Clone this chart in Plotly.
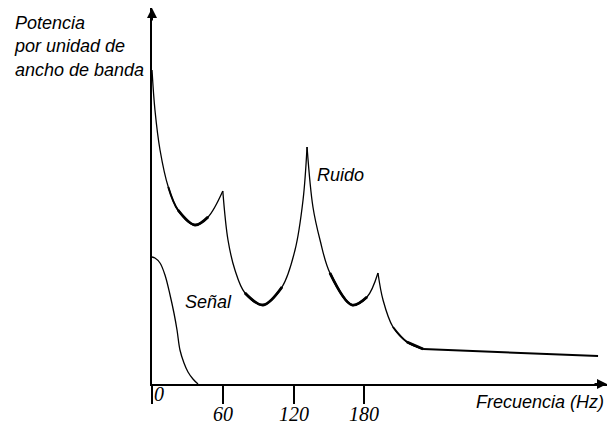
import plotly.graph_objects as go

# ---- data (frequency in Hz, power in arbitrary units) ----
tick_vals = [0, 60, 120, 180]
tick_text = ["0", "60", "120", "180"]

ruido_arc1_x = [0, 2.5, 6.8, 13.8, 22.0, 36.4, 47.5, 60]
ruido_arc1_y = [314, 274, 234, 197, 174, 159, 167, 193]
ruido_arc2_x = [60, 64.4, 70.3, 78.8, 94.1, 110.2, 121.2, 128.0, 131.4]
ruido_arc2_y = [193, 144, 114, 91, 79, 97, 134, 184, 237]
ruido_arc3_x = [131.4, 136.4, 142.4, 150.8, 169.5, 182.2, 191.5]
ruido_arc3_y = [237, 177, 144, 111, 79, 87, 111]
ruido_arc4_x = [191.5, 195.8, 204.2, 216.1, 229.7]
ruido_arc4_y = [111, 84, 57, 42, 35]
ruido_tail_x = [229.7, 378]
ruido_tail_y = [35, 28]

senal_x = [0, 2.5, 6.8, 11.0, 15.3, 18.6, 21.2, 23.7, 27.1, 30.5, 34.7, 39.0]
senal_y = [127, 126, 121, 109, 89, 71, 54, 34, 21, 12, 5, 0]

# ---- layout geometry ----
W, H = 608, 426
L, R, T, B = 152, 1, 8, 42
PX_PER_HZ = 1.18
plot_w = W - L - R
plot_h = H - T - B
x_max = plot_w / PX_PER_HZ
y_max = plot_h


def px(xp):
    return (xp - L) / plot_w


def py(yp):
    return (H - B - yp) / plot_h


fig = go.Figure()

arcs = [
    (ruido_arc1_x, ruido_arc1_y, slice(3, 7), slice(4, 7)),
    (ruido_arc2_x, ruido_arc2_y, slice(3, 6), slice(3, 6)),
    (ruido_arc3_x, ruido_arc3_y, slice(3, 6), slice(3, 6)),
    (ruido_arc4_x, ruido_arc4_y, slice(2, 5), slice(3, 5)),
]
for xs, ys, mid, core in arcs:
    fig.add_trace(go.Scatter(x=xs, y=ys, mode="lines",
                             line=dict(color="black", width=1.3, shape="spline"),
                             hoverinfo="skip", showlegend=False))
    fig.add_trace(go.Scatter(x=xs[mid], y=ys[mid], mode="lines",
                             line=dict(color="black", width=2.0, shape="spline"),
                             hoverinfo="skip", showlegend=False))
    fig.add_trace(go.Scatter(x=xs[core], y=ys[core], mode="lines",
                             line=dict(color="black", width=2.8, shape="spline"),
                             hoverinfo="skip", showlegend=False))

fig.add_trace(go.Scatter(x=ruido_tail_x, y=ruido_tail_y, mode="lines",
                         line=dict(color="black", width=2),
                         hoverinfo="skip", showlegend=False))
fig.add_trace(go.Scatter(x=senal_x, y=senal_y, mode="lines",
                         line=dict(color="black", width=1.3, shape="spline"),
                         hoverinfo="skip", showlegend=False))

label_font = dict(family="Liberation Sans, Arial", size=18, color="black", style="italic")
tick_font = dict(family="Liberation Serif, Times New Roman", size=20, color="black", style="italic")

annotations = [
    dict(xref="paper", yref="paper", x=px(12), y=py(11), xanchor="left", yanchor="top",
         align="left", showarrow=False, font=label_font,
         text="Potencia<br>por unidad de<br>ancho de banda"),
    dict(xref="x", yref="y", x=(315 - L) / PX_PER_HZ, y=H - B - 175,
         xanchor="left", yanchor="middle", showarrow=False, font=label_font, text="Ruido"),
    dict(xref="x", yref="y", x=(183 - L) / PX_PER_HZ, y=H - B - 302,
         xanchor="left", yanchor="middle", showarrow=False, font=label_font, text="Señal"),
    dict(xref="paper", yref="paper", x=px(606), y=py(402), xanchor="right", yanchor="middle",
         showarrow=False, font=label_font, text="Frecuencia (Hz)"),
    # axis arrows
    dict(xref="x", yref="y", x=x_max, y=0, ax=-14, ay=0, showarrow=True,
         arrowhead=2, arrowsize=1, arrowwidth=2, arrowcolor="black", text=""),
    dict(xref="x", yref="y", x=0, y=y_max, ax=0, ay=14, showarrow=True,
         arrowhead=2, arrowsize=1, arrowwidth=2, arrowcolor="black", text=""),
]

# tick labels: "0" sits beside its tick, the others below
for v, t in zip(tick_vals, tick_text):
    if v == 0:
        annotations.append(dict(xref="x", yref="paper", x=v, xshift=7, y=py(394),
                                xanchor="center", yanchor="middle", showarrow=False,
                                text=t, font=tick_font))
    else:
        annotations.append(dict(xref="x", yref="paper", x=v, y=py(414),
                                xanchor="center", yanchor="middle", showarrow=False,
                                text=t, font=tick_font))

fig.update_layout(
    width=W, height=H,
    margin=dict(l=L, r=R, t=T, b=B, autoexpand=False),
    paper_bgcolor="white", plot_bgcolor="white",
    showlegend=False,
    annotations=annotations,
    xaxis=dict(range=[0, x_max], showgrid=False, zeroline=False, automargin=False,
               showline=True, linecolor="black", linewidth=2,
               ticks="outside", ticklen=18, tickwidth=2, tickcolor="black",
               tickvals=tick_vals, showticklabels=False,
               fixedrange=True),
    yaxis=dict(range=[0, y_max], showgrid=False, zeroline=False, automargin=False,
               showline=True, linecolor="black", linewidth=2,
               showticklabels=False, ticks="", fixedrange=True),
)

fig.write_html("out.html", config={"displayModeBar": False},
               post_script="document.body.style.margin='0';document.body.style.overflow='hidden';")
